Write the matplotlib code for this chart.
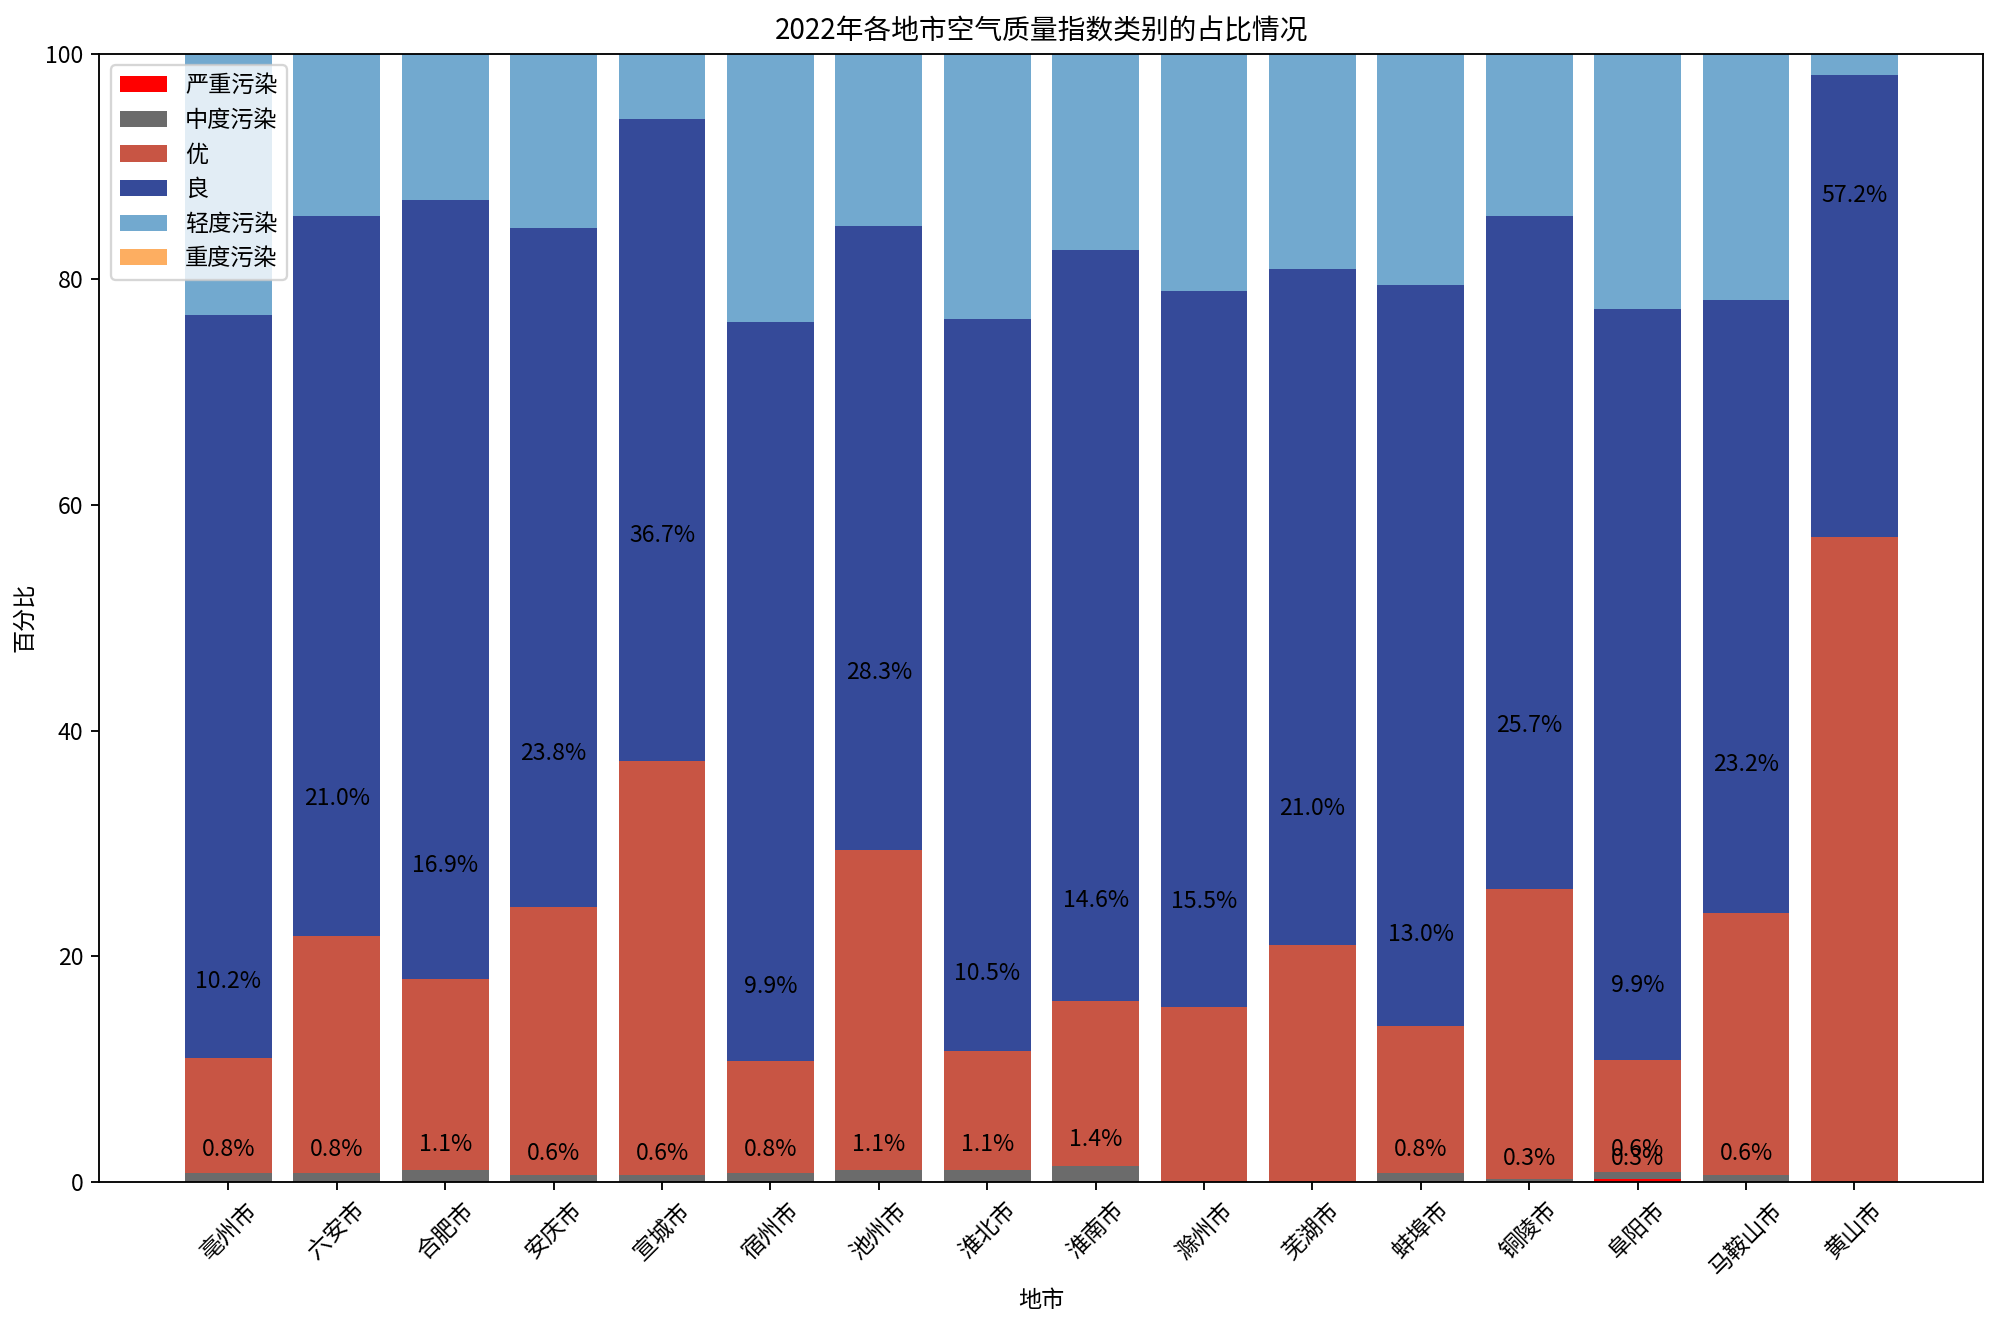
import numpy as np
import matplotlib
matplotlib.use('Agg')
import matplotlib.pyplot as plt

plt.rcParams['font.family'] = ['Noto Sans CJK SC', 'DejaVu Sans']
plt.rcParams['axes.unicode_minus'] = False

# 地市
cities = ['亳州市', '六安市', '合肥市', '安庆市', '宣城市', '宿州市', '池州市', '淮北市',
          '淮南市', '滁州市', '芜湖市', '蚌埠市', '铜陵市', '阜阳市', '马鞍山市', '黄山市']

# 各类别占比（%）
severe = [0, 0, 0, 0, 0, 0, 0, 0, 0, 0, 0, 0, 0, 0.3, 0, 0]
moderate = [0.8, 0.8, 1.1, 0.6, 0.6, 0.8, 1.1, 1.1, 1.4, 0, 0, 0.8, 0.3, 0.6, 0.6, 0]
excellent = [10.2, 21.0, 16.9, 23.8, 36.7, 9.9, 28.3, 10.5, 14.6, 15.5, 21.0, 13.0, 25.7, 9.9, 23.2, 57.2]
good = [65.8, 63.8, 69.0, 60.1, 56.9, 65.5, 55.3, 64.9, 66.6, 63.5, 59.9, 65.7, 59.6, 66.6, 54.4, 40.9]
light = [23.2, 14.4, 13.0, 15.5, 5.8, 23.8, 15.3, 23.5, 17.4, 21.0, 19.1, 20.5, 14.4, 22.6, 21.8, 1.9]
heavy = [0] * 16

categories = ['严重污染', '中度污染', '优', '良', '轻度污染', '重度污染']
series = [severe, moderate, excellent, good, light, heavy]
colors = ['#ff0000', '#6b6b6b', '#c85544', '#354a99', '#72a9cf', '#fdae61']
labeled = ['严重污染', '中度污染', '优']

fig, ax = plt.subplots(figsize=(12, 7.962), dpi=166.67)
x = np.arange(len(cities))
bottom = np.zeros(len(cities))

for name, vals, c in zip(categories, series, colors):
    vals = np.array(vals, dtype=float)
    ax.bar(x, vals, bottom=bottom, color=c, label=name, width=0.8)
    if name in labeled:
        for i, v in enumerate(vals):
            if v > 0:
                ax.annotate(f'{v:.1f}%', (x[i], bottom[i] + v * 1.5),
                            xytext=(0, 8), textcoords='offset points',
                            ha='center', va='center', fontsize=10)
    bottom += vals

ax.set_ylim(0, 100)
ax.set_xticks(x)
ax.set_xticklabels(cities, rotation=45)
ax.set_xlabel('地市')
ax.set_ylabel('百分比')
ax.set_title('2022年各地市空气质量指数类别的占比情况')
ax.legend(loc='upper left')

fig.subplots_adjust(left=0.0497, right=0.9917, top=0.9596, bottom=0.1093)
plt.savefig('out.png')
